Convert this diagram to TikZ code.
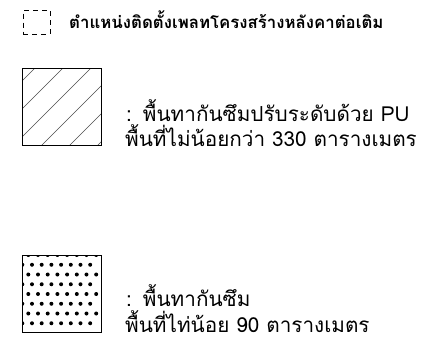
\documentclass[tikz,border=0pt]{standalone}
\usepackage{fontspec}
\newfontfamily\thaifont[Script=Thai]{Loma}
\usetikzlibrary{calc}
\tikzset{
  legendbox/.style={draw=black, line width=1bp, minimum width=78.7bp, minimum height=77bp, inner sep=0pt, outer sep=0pt},
  dashbox/.style={draw=black, line width=0.8bp, dash pattern=on 5bp off 4bp, minimum width=26.7bp, minimum height=24bp, inner sep=0pt},
  hatchline/.style={draw=black!70, line width=0.5bp},
  legtext/.style={anchor=base west, inner sep=0pt, font=\thaifont\fontsize{20.7bp}{24bp}\selectfont},
  titletext/.style={anchor=base west, inner sep=0pt, font=\thaifont\bfseries\fontsize{16.8bp}{20bp}\selectfont},
}
\begin{document}
\begin{tikzpicture}[x=1bp, y=-1bp]
\useasboundingbox (0,0) rectangle (429,354);
% dashed legend item
\node[dashbox] (dbox) at (36.65,22) {};
\node[titletext] (title) at (69,28) {ตำแหน่งติดตั้งเพลทโครงสร้างหลังคาต่อเติม};
% hatched legend item
\node[legendbox, path picture={
  \foreach \k in {0,...,5}{
    \draw[hatchline] ($(path picture bounding box.north west)+(12.7+28*\k,0)$) -- ++(-120,120);
  }}] (hatch) at (61.65,106.5) {};
\node[legtext] (hatchA) at (126,121) {:\hspace{11bp}พื้นทากันซึมปรับระดับด้วย PU};
\node[legtext] (hatchB) at (125,146) {พื้นที่ไม่น้อยกว่า 330 ตารางเมตร};
% dotted legend item
\node[legendbox, path picture={
  \foreach \r in {0,...,7}{
    \pgfmathsetmacro{\xo}{mod(\r,2)==0 ? 6 : 0}
    \foreach \c in {0,...,7}{
      \fill[black] ($(path picture bounding box.north west)+(\xo+9.7*\c,9.75*\r)$) circle (2bp);
    }
  }}] (dots) at (61.65,293.5) {};
\node[legtext] (dotsA) at (126,306) {:\hspace{11bp}พื้นทากันซึม};
\node[legtext] (dotsB) at (125,332) {พื้นที่ไท่น้อย 90 ตารางเมตร};
\end{tikzpicture}
\end{document}
